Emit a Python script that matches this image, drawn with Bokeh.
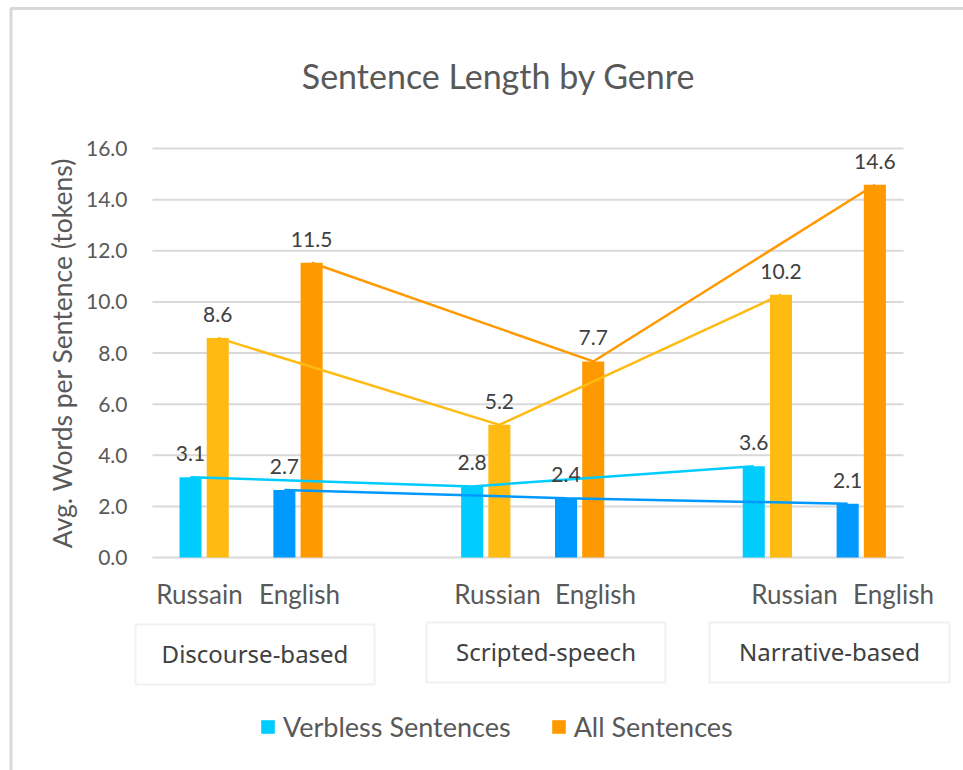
import math
from bokeh.plotting import figure
from bokeh.models import (ColumnDataSource, LabelSet, Label, BoxAnnotation, Legend,
                          LegendItem, FixedTicker, Range1d)
from bokeh.core.properties import value
from bokeh.embed import file_html
from bokeh.resources import INLINE

# ---------------- data ----------------
groups = ["Discourse-based", "Scripted-speech", "Narrative-based"]
language_labels = ["Russain", "English", "Russian", "English", "Russian", "English"]
series_names = ["Verbless Sentences", "All Sentences"]

ru_slot = [0, 3, 6]          # category slot of the Russian bars in each genre
en_slot = [1, 4, 7]          # category slot of the English bars in each genre

ru_verbless = [3.14, 2.78, 3.57]
ru_all = [8.59, 5.19, 10.28]
en_verbless = [2.64, 2.32, 2.10]
en_all = [11.53, 7.67, 14.58]

ru_verbless_txt = ["3.1", "2.8", "3.6"]
ru_all_txt = ["8.6", "5.2", "10.2"]
en_verbless_txt = ["2.7", "2.4", "2.1"]
en_all_txt = ["11.5", "7.7", "14.6"]

y_ticks = [0, 2, 4, 6, 8, 10, 12, 14, 16]
y_tick_labels = ["%.1f" % t for t in y_ticks]
y_title = "Avg. Words per Sentence (tokens)"
title = "Sentence Length by Genre"

# ---------------- layout ----------------
W, H = 963, 770
FL, FR, FT, FB = 152, 903, 148, 557      # plot area in canvas pixels
X0, X1 = -0.55, 7.45                     # category slots shown in plot area
Y0, Y1 = 0, 16
PXU = (FR - FL) / (X1 - X0)
PYU = (FB - FT) / (Y1 - Y0)
OFF = 0.145
BW = 0.235

C_CYAN = "#00CCFF"
C_YEL = "#FFBB11"
C_BLUE = "#0099FF"
C_ORG = "#FF9900"
TXT = "#595959"
FONT = "Lato"


def dx(px):
    return X0 + (px - FL) / PXU


def dy(py):
    return Y0 + (FB - py) / PYU


p = figure(width=W, height=H, output_backend="svg", toolbar_location=None,
           x_range=Range1d(dx(0), dx(W)), y_range=Range1d(dy(H), dy(0)),
           min_border=0)
p.outline_line_color = None
p.xaxis.visible = False
p.yaxis.visible = False
p.xgrid.visible = False
p.ygrid.visible = False

# horizontal gridlines limited to the plot area
p.segment(x0=[X0] * len(y_ticks), x1=[X1] * len(y_ticks), y0=y_ticks, y1=y_ticks,
          line_color="#D9D9D9", line_width=2)

# y tick labels and axis title
p.add_layout(LabelSet(x="x", y="y", text="t",
                      source=ColumnDataSource(dict(x=[dx(127)] * len(y_ticks), y=y_ticks,
                                                   t=y_tick_labels)),
                      text_align="right", text_baseline="middle", text_font=value(FONT),
                      text_font_size="21px", text_color=TXT))
p.add_layout(Label(x=dx(61), y=(Y0 + Y1) / 2, text=y_title, angle=math.pi / 2,
                   text_align="center", text_baseline="middle", text_font=FONT,
                   text_font_size="26.5px", text_color=TXT))

ru_x_v = [s - OFF for s in ru_slot]
ru_x_a = [s + OFF for s in ru_slot]
en_x_v = [s - OFF for s in en_slot]
en_x_a = [s + OFF for s in en_slot]

r_rv = p.vbar(x=ru_x_v, top=ru_verbless, width=BW, fill_color=C_CYAN, line_color=None)
r_ra = p.vbar(x=ru_x_a, top=ru_all, width=BW, fill_color=C_YEL, line_color=None)
r_ev = p.vbar(x=en_x_v, top=en_verbless, width=BW, fill_color=C_BLUE, line_color=None)
r_ea = p.vbar(x=en_x_a, top=en_all, width=BW, fill_color=C_ORG, line_color=None)

p.line(ru_x_v, ru_verbless, line_color=C_CYAN, line_width=2.5)
p.line(en_x_v, en_verbless, line_color=C_BLUE, line_width=2.5)
p.line(ru_x_a, ru_all, line_color=C_YEL, line_width=2.5)
p.line(en_x_a, en_all, line_color=C_ORG, line_width=2.5)

lab_src = ColumnDataSource(dict(
    x=ru_x_v + ru_x_a + en_x_v + en_x_a,
    y=ru_verbless + ru_all + en_verbless + en_all,
    t=ru_verbless_txt + ru_all_txt + en_verbless_txt + en_all_txt,
))
p.add_layout(LabelSet(x="x", y="y", text="t", source=lab_src, text_align="center",
                      text_baseline="bottom", y_offset=16, text_font=value(FONT),
                      text_font_size="21px", text_color="#404040"))


def label(px, py, text, size, font=FONT, color=TXT):
    p.add_layout(Label(x=dx(px), y=dy(py), text=text,
                       text_align="center", text_baseline="middle",
                       text_font=font, text_font_size=size, text_color=color))


def box(l, r, t, b, color, width):
    p.add_layout(BoxAnnotation(left=dx(l), right=dx(r), top=dy(t), bottom=dy(b),
                               fill_color=None, fill_alpha=0,
                               line_color=color, line_width=width))


# title
label(498, 75, title, "34px")

# outer chart border
box(10.5, 3000, 8, 3000, "#7F7F7F", 3)

# language labels under the bars
lang_px = [199, 299, 497, 595, 794, 893]
for t, px in zip(language_labels, lang_px):
    label(px, 593, t, "26px")

# genre boxes
boxes = [(135, 374, 624, 684), (426, 665, 622, 682), (709, 949, 622, 682)]
for g, (l, r, t, b) in zip(groups, boxes):
    box(l, r, t, b, "#D0D0D0", 2)
    label((l + r) / 2, (t + b) / 2 - 1, g, "24px", font="Noto Sans", color="#404040")

legend = Legend(items=[LegendItem(label=series_names[0], renderers=[r_rv]),
                       LegendItem(label=series_names[1], renderers=[r_ea])],
                orientation="horizontal", location=(259, 27),
                padding=0, margin=0, spacing=39, label_standoff=7,
                glyph_width=17, glyph_height=17, label_height=30,
                label_text_font=FONT, label_text_font_size="27px",
                label_text_color=TXT, background_fill_alpha=0,
                border_line_color=None)
p.add_layout(legend, "center")

open("out.html", "w").write(file_html(p, INLINE))
